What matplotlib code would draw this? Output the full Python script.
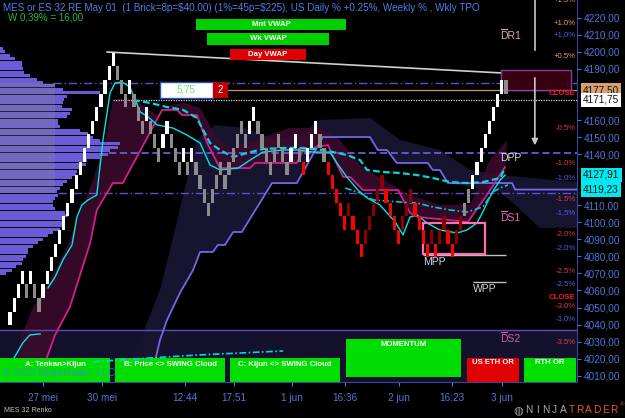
import numpy as np
import matplotlib.pyplot as plt
from matplotlib.patches import Rectangle, Polygon
from matplotlib.transforms import blended_transform_factory

plt.rcParams['font.family'] = ['Liberation Sans', 'DejaVu Sans']

# ---------------- data ----------------
brick_size = 8.0
brick_top0 = 4199.5          # top of the highest brick, counted down in bricks
brick_level = [19, 18, 17, 16, 17, 16, 17, 18, 17, 16,
               15, 14, 13, 12, 11, 10, 9, 8, 7, 6,
               5, 4, 3, 2, 1, 0, 1, 2, 3, 2,
               3, 4, 5, 4, 5, 6, 7, 6, 5, 6,
               7, 8, 7, 8, 7, 8, 9, 10, 11, 10,
               9, 8, 9, 8, 7, 6, 5, 6, 5, 4,
               5, 6, 7, 8, 7, 6, 7, 8, 7, 6,
               7, 8, 7, 6, 5, 6, 7, 8, 9, 10,
               11, 12, 11, 12, 13, 14, 13, 12, 11, 10,
               9, 10, 11, 12, 13, 12, 11, 10, 11, 12,
               13, 14, 13, 14, 13, 12, 13, 14, 13, 12,
               11, 10, 9, 8, 7, 6, 5, 4, 3, 2, 2]
# w = up, g = neutral, r = down, d = up inside down leg
brick_kind = ("wwwwgwgg" "wwwwwwwwwwwwwwwwww" "gggwgggwggg" "wwgggwgw"
              "ggggggggggggg" "ww" "gggggggg" "wwgr" "wwwgg" "rrrrrdrrr"
              "ddddd" "rrrrdddrrrr" "drddrrdd" "gg" "wwwwwwww" "g")

# weekly TPO profile, 2 point rows from the top down
profile_top = 4202.0
profile_step = 2.0
profile_vol = [3, 5, 10, 15, 22, 22, 23, 24, 30, 37,
               43, 55, 63, 100, 67, 64, 63, 62, 72, 70,
               67, 58, 58, 60, 80, 88, 93, 100, 120, 118,
               110, 108, 100, 87, 86, 80, 77, 76, 72, 67,
               63, 60, 57, 58, 55, 53, 53, 55, 65, 68,
               62, 62, 62, 60, 53, 48, 43, 38, 33, 28,
               28, 26, 23, 22, 16, 12, 6]
va_high, va_low = 4181.7, 4117.0

# indicator lines as (bar, price)
swing_lower = [(6.8, 4006.3), (10.9, 4033.9), (14.5, 4050.3), (19.4, 4087.9), (21.0, 4107.2),
               (24.9, 4123.0), (27.3, 4123.0), (36.8, 4165.9), (40.4, 4165.9), (41.6, 4162.9),
               (45.2, 4162.9), (47.7, 4146.5), (50.8, 4131.8), (58.1, 4131.8), (59.3, 4134.8),
               (69.4, 4134.8), (70.9, 4142.4), (76.9, 4145.3), (80.6, 4126.6), (82.3, 4126.6),
               (85.4, 4118.9), (93.9, 4118.9), (96.8, 4105.5), (98.7, 4103.1), (110.8, 4100.2),
               (115.4, 4116.0), (119.8, 4132.4)]
swing_upper = [(1.2, 4006.3), (2.4, 4031.0), (5.6, 4050.3), (9.7, 4066.2), (13.8, 4085.5),
               (16.9, 4105.5), (20.1, 4124.8), (23.0, 4148.3), (24.9, 4171.7), (28.3, 4172.9),
               (31.5, 4169.4), (35.6, 4162.9), (38.7, 4168.8), (42.3, 4170.0), (46.0, 4167.0),
               (49.6, 4151.2), (53.2, 4143.6), (59.3, 4148.3), (67.7, 4155.3), (75.0, 4155.3),
               (79.8, 4148.3), (84.7, 4133.6), (89.5, 4126.0), (96.8, 4116.0), (104.0, 4110.2),
               (111.3, 4110.2), (116.1, 4136.5), (120.3, 4148.3)]
cloud_edge = [(26.1, 4006.3), (31.5, 4031.0), (36.3, 4060.3), (39.9, 4095.5), (42.8, 4124.8),
              (45.2, 4148.3), (49.6, 4157.1), (56.9, 4155.3), (64.1, 4148.3), (70.2, 4151.2),
              (75.0, 4160.0), (87.1, 4161.2), (94.4, 4148.3), (104.0, 4142.4), (111.3, 4130.7),
              (118.6, 4127.7), (137.2, 4123.6), (137.2, 4096.7), (128.2, 4096.7), (122.2, 4110.2),
              (118.6, 4117.8)]
swing_cloud = [(33.9, 4006.3), (36.3, 4031.0), (38.0, 4042.7), (41.1, 4058.5), (44.3, 4072.0),
               (46.0, 4082.6), (49.1, 4082.6), (50.3, 4086.7), (52.0, 4086.7), (54.0, 4094.3),
               (56.1, 4094.3), (63.4, 4123.0), (69.4, 4123.0), (75.7, 4150.0), (87.1, 4150.0),
               (89.0, 4142.4), (91.2, 4142.4), (93.6, 4134.8), (101.1, 4134.8), (102.3, 4130.7),
               (104.0, 4130.7), (106.0, 4123.0), (121.5, 4123.0), (122.2, 4119.2), (137.2, 4119.2)]
tenkan = [(9.2, 4061.5), (10.9, 4067.9), (12.8, 4077.9), (15.0, 4086.7), (16.2, 4103.1),
          (17.4, 4110.2), (18.9, 4113.1), (21.0, 4116.0), (22.5, 4148.3), (24.2, 4175.8),
          (25.4, 4181.7), (27.1, 4182.3), (29.0, 4179.4), (31.5, 4164.7), (33.4, 4161.8),
          (35.6, 4157.1), (39.4, 4155.3), (42.8, 4151.2), (46.0, 4146.5), (48.4, 4133.6),
          (50.8, 4130.7), (55.2, 4131.8), (58.1, 4136.5), (61.2, 4141.2), (66.1, 4142.4),
          (69.7, 4142.4), (73.3, 4141.2), (77.4, 4141.2), (79.1, 4134.8), (81.5, 4126.6),
          (84.2, 4118.9), (86.4, 4114.3), (89.5, 4110.2), (93.2, 4100.2), (95.1, 4092.6),
          (96.8, 4103.1), (98.5, 4104.3), (100.9, 4099.6), (104.0, 4095.5), (108.2, 4093.7),
          (110.6, 4095.5), (113.0, 4099.6), (114.4, 4106.0), (116.6, 4117.2), (118.6, 4124.8),
          (119.8, 4127.7)]
kijun = [(29.8, 4171.7), (33.9, 4170.0), (38.0, 4167.6), (41.9, 4165.9), (45.2, 4161.2),
         (48.4, 4146.5), (50.8, 4142.4), (54.0, 4138.3), (57.3, 4140.6), (61.2, 4143.0),
         (66.1, 4143.6), (70.9, 4143.6), (75.7, 4142.4), (81.5, 4139.5), (84.7, 4136.5),
         (86.4, 4130.7), (90.2, 4129.5), (94.4, 4128.9), (98.5, 4127.7), (102.3, 4126.0),
         (106.5, 4123.6), (110.6, 4123.0), (114.4, 4123.6), (118.6, 4126.0), (119.8, 4131.8)]
vwap_day = [(81.1, 4120.1), (84.7, 4117.2), (87.8, 4113.1), (94.4, 4111.9), (98.5, 4111.3),
            (102.3, 4109.0), (106.5, 4107.2), (110.6, 4106.0), (114.4, 4109.0), (116.9, 4117.8),
            (118.6, 4120.1), (120.5, 4121.9)]
osc_solid = [(0.7, 4019.3), (3.1, 4029.2), (4.8, 4033.9), (7.3, 4034.5)]
osc_dashdot = [(20.1, 4018.1), (33.9, 4020.4), (46.0, 4022.2), (66.1, 4024.5)]
trend_line = [(23.5, 4199.9), (119.0, 4187.6)]

dpp, last_price, day_close = 4140.5, 4171.75, 4177.5
mpp, wpp, ds2_line = 4080.8, 4065.0, 4036.7

pct_text = ["+1.5%", "+1.0%", "+1,0%", "+0.5%", "CLOSE", "-0.5%", "-1.0%", "-1,0%", "-1.5%",
            "-1,5%", "-2.0%", "-2,0%", "-2.5%", "-2,5%", "CLOSE", "-3.0%", "-3,0%", "-3.5%"]
pct_price = [4230.4, 4216.9, 4209.9, 4197.0, 4175.8, 4155.3, 4134.2, 4126.0, 4113.1,
             4105.5, 4092.6, 4085.0, 4071.4, 4063.8, 4055.6, 4050.3, 4043.3, 4029.2]
pct_kind = "ppbpcrrbrbrbrbcrbr"

tag_values = [4177.50, 4171.75, 4127.91, 4119.23]
tag_colors = ['#d9a06e', '#ffffff', '#00e8f0', '#00e8f0']

time_pos = [8.0, 22.3, 42.3, 54.2, 68.2, 81.1, 94.1, 107.0, 119.0]
time_labels = ["27 mei", "30 mei", "12:44", "17:51", "1 jun", "16:36", "2 jun", "16:23", "3 jun"]

# ---------------- figure ----------------
W, H = 625, 418
fig = plt.figure(figsize=(W / 100, H / 100), dpi=100, facecolor='black')
ax = fig.add_axes([0, 36 / H, 577 / W, 382 / H], facecolor='black')
x0, x1 = -2.42, 137.2
ax.set_xlim(x0, x1)
ax.set_ylim(4006.3, 4230.4)
px_per_bar = 577 / (x1 - x0)


def fx(x):
    return x / W


def fy(y):
    return 1 - y / H


# lower panel and clouds
ax.axhspan(4006.3, ds2_line, color='#13112b', zorder=0)
ax.axhline(ds2_line, color='#5a4ab8', lw=1, zorder=1)
low = np.array(swing_cloud)
navy = np.vstack([np.array(cloud_edge), low[low[:, 0] <= 106.5][::-1]])
ax.add_patch(Polygon(navy, closed=True, fc='#16142f', ec='none', zorder=0.5))
maroon = np.vstack([np.array(swing_upper), np.array(swing_lower)[::-1]])
ax.add_patch(Polygon(maroon, closed=True, fc='#3a0b2c', ec='none', alpha=0.9, zorder=0.7))

# TPO profile
rows = profile_top - profile_step * np.arange(len(profile_vol))
ax.barh(rows, np.array(profile_vol) / px_per_bar, height=profile_step * 0.88, left=x0,
        color='#6b5bd8', lw=0, zorder=3)
ax.add_patch(Rectangle((x0, va_low), 55 / px_per_bar, va_high - va_low,
                       fc='#8a8a8a', alpha=0.28, lw=0, zorder=3.5))

# horizontal levels
ax.hlines(va_high, 10.5, x1, color='#6050c8', lw=1, linestyles=(0, (6, 2, 1, 2)), zorder=2)
ax.hlines(va_low, 11.6, x1, color='#6050c8', lw=1, linestyles=(0, (6, 2, 1, 2)), zorder=2)
ax.hlines(dpp, 24.0, x1, color='#6a5ad8', lw=1.3, linestyles=(0, (4, 2)), zorder=2)
ax.hlines(last_price, 25.0, x1, color='#d0d0d0', lw=0.9, linestyles=(0, (1, 1)), zorder=2)
ax.hlines(day_close, 52.5, x1, color='#c8956a', lw=0.9, zorder=2)
ax.hlines(mpp, 99.9, 120.0, color='#c0c0c0', lw=1, zorder=2)
ax.hlines(wpp, 112.0, 120.0, color='#c0c0c0', lw=1, zorder=2)

# indicator lines
def draw(points, **kw):
    p = np.array(points)
    ax.plot(p[:, 0], p[:, 1], **kw)


draw(swing_cloud, color='#7565e8', lw=1.3, zorder=4)
draw(swing_lower, color='#d0208a', lw=1.3, zorder=4)
draw(tenkan, color='#00e5ee', lw=1.0, zorder=4.2)
draw(kijun, color='#00d8e0', lw=1.6, dashes=(3, 1.5), zorder=4.2)
draw(vwap_day, color='#00c8d8', lw=1.2, dashes=(4, 1.5, 1, 1.5), zorder=4.2)
draw(osc_solid, color='#00e5ee', lw=1.0, zorder=4.2)
draw(trend_line, color='#d0d0d0', lw=1.2, zorder=4.5)

# boxes
ax.add_patch(Rectangle((99.9, 4081.4), 15.0, 18.2, fc='none', ec='#ff6fb4', lw=1.6, zorder=5))
ax.add_patch(Rectangle((118.8, 4177.6), 16.9, 11.7, fc='#3a0010', ec='#8a3fb0', lw=1, alpha=0.95, zorder=4.8))

# renko bricks
tops = brick_top0 - brick_size * np.array(brick_level)
kind_color = {'w': '#ffffff', 'g': '#8c8c8c', 'r': '#ff0000', 'd': '#8b0000'}
ax.bar(np.arange(len(tops)), brick_size, bottom=tops - brick_size, width=0.78,
       color=[kind_color[k] for k in brick_kind], lw=0, zorder=6)

# arrow to DPP
ax.plot([127.0, 127.0], [4201.0, 4231.0], color='#c8c8c8', lw=1.2, zorder=5)
ax.annotate('', xy=(127.0, dpp + 3), xytext=(127.0, 4186.4),
            arrowprops=dict(arrowstyle='-|>', color='#c8c8c8', lw=1.2, mutation_scale=9), zorder=5)

# pivot labels (bar over the D drawn as a short line)
for name, price, col in [('DR1', 4209.3, '#d8a8a8'), ('DS1', 4102.5, '#e070b0'), ('DS2', 4031.5, '#d060a0')]:
    ax.text(118.6, price, name, color=col, fontsize=7.5, va='center', zorder=7)
    ax.plot([118.8, 120.3], [price + 4.0, price + 4.0], color=col, lw=0.8, zorder=7)
ax.text(118.6, 4137.8, 'DPP', color='#e0e0e0', fontsize=7.5, va='center', zorder=7)
ax.text(99.9, 4076.7, 'MPP', color='#c8d8f0', fontsize=7.5, va='center', zorder=7)
ax.text(112.0, 4061.0, 'WPP', color='#d0d0d0', fontsize=7.5, va='center', zorder=7)

pct_color = {'p': '#e89a7a', 'b': '#5a5ae8', 'r': '#e03848', 'c': '#ff1a1a'}
for s, p, k in zip(pct_text, pct_price, pct_kind):
    ax.text(136.8, p, s, color=pct_color[k], fontsize=5.6, ha='right', va='center',
            fontweight='bold' if k == 'c' else 'normal', zorder=7, clip_on=True)

# axes styling
for side in ('top', 'left'):
    ax.spines[side].set_visible(False)
for side in ('bottom', 'right'):
    ax.spines[side].set_color('#34489c')
ax.yaxis.tick_right()
yt = [v for v in range(4010, 4230, 10) if v not in (4120, 4130, 4170, 4180)]
ax.set_yticks(yt)
ax.set_yticklabels([f"{v:.2f}".replace('.', ',') for v in yt])
ax.set_xticks(time_pos)
ax.set_xticklabels(time_labels)
ax.tick_params(axis='both', colors='#4a78d8', labelsize=7.2, length=3)
ax.tick_params(axis='y', pad=2)
ax.tick_params(axis='x', pad=5)

# price tags on the axis
tb = blended_transform_factory(ax.transAxes, ax.transData)
for v, c in zip(tag_values, tag_colors):
    ax.text(583 / 577, v, f"{v:.2f}".replace('.', ','), transform=tb, color='#101010', fontsize=7.2,
            va='center', ha='left', clip_on=False, zorder=9,
            bbox=dict(boxstyle='square,pad=0.22', fc=c, ec='none'))

# on-chart panels (figure pixel layout)
def panel(xa, ya, xb, yb, fc, label, ty, color='white'):
    ax.add_patch(Rectangle((fx(xa), fy(yb)), fx(xb) - fx(xa), fy(ya) - fy(yb), transform=fig.transFigure,
                           fc=fc, ec='none', clip_on=False, zorder=8))
    ax.text(fx((xa + xb) / 2), fy(ty), label, transform=fig.transFigure, color=color, fontsize=5.6,
            fontweight='bold', ha='center', va='center', clip_on=False, zorder=8.5)


panel(196, 19, 346, 30, '#00d000', 'Mnt VWAP', 24.5)
panel(207, 33, 329, 45, '#00d000', 'Wk VWAP', 39)
panel(230, 49, 306, 60, '#dd0000', 'Day VWAP', 54.5)
panel(0, 358, 110, 382, '#00dd00', 'A: Tenkan>Kijun', 364)
panel(115, 358, 225, 382, '#00dd00', 'B: Price <> SWING Cloud', 364)
panel(230, 358, 340, 382, '#00dd00', 'C: Kijun <> SWING Cloud', 364)
panel(346, 339, 461, 377, '#00dd00', 'MOMENTUM', 344)
panel(467, 358, 519, 382, '#e00000', 'US ETH OR', 363)
panel(524, 358, 576, 382, '#00dd00', 'RTH OR', 363)

ax.add_patch(Rectangle((fx(160), fy(98)), fx(53), 16 / H, transform=fig.transFigure, fc='white',
                       ec='#3050c0', lw=1, clip_on=False, zorder=8))
ax.text(fx(186), fy(90), '5,75', transform=fig.transFigure, color='#70e070', fontsize=7,
        ha='center', va='center', zorder=8.5)
ax.add_patch(Rectangle((fx(213), fy(98)), fx(15), 16 / H, transform=fig.transFigure, fc='#c00000',
                       ec='none', clip_on=False, zorder=8))
ax.text(fx(220.5), fy(90), '2', transform=fig.transFigure, color='white', fontsize=7,
        ha='center', va='center', zorder=8.5)

draw(osc_dashdot, color='#00d8e0', lw=1.2, dashes=(4, 1.5, 1, 1.5), zorder=8.6, clip_on=False)
ax.text(fx(3), fy(373), '\u00a9 2022 NinjaTrader, LLC', transform=fig.transFigure, color='#3a8fd0',
        alpha=0.75, fontsize=7.3, ha='left', va='center', zorder=8.7)

# header texts
fig.text(fx(3), fy(8), "MES or ES 32 RE May 01  (1 Brick=8p=\\$40.00) (1%=45p=\\$225), US Daily % +0.25%, "
         "Weekly % , Wkly TPO", color='#4a80e8', fontsize=7.1, ha='left', va='center')
fig.text(fx(8), fy(18), "W 0,39% = 16,00", color='#20c040', fontsize=7, ha='left', va='center')
fig.text(fx(4), fy(410), "MES 32 Renko", color='#c0c0c0', fontsize=5, ha='left', va='center')

# logo
fig.text(fx(518), fy(410), '\u25cd', color='#a0a0a0', fontsize=8, ha='center', va='center')
for i, ch in enumerate("NINJATRADER"):
    fig.text(fx(529 + 8.5 * i), fy(410), ch, color='#a8a8a8' if i < 5 else '#e05a20',
             fontsize=7.3, ha='center', va='center')
fig.text(fx(622), fy(405), '\u00ae', color='#e05a20', fontsize=4.2, ha='center', va='center')

fig.savefig('out.png', dpi=100, facecolor='black')
